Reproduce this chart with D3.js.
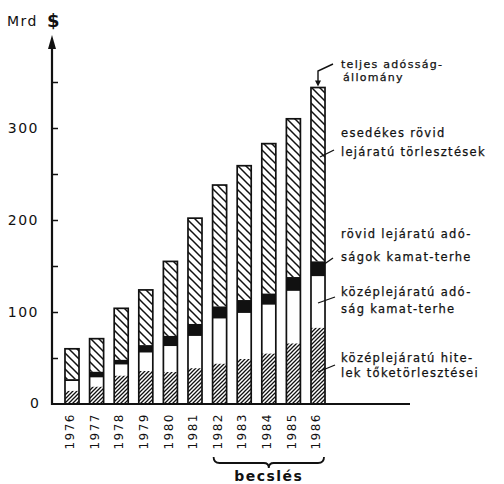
<!DOCTYPE html>
<html>
<head>
<meta charset="utf-8">
<script src="https://cdn.jsdelivr.net/npm/d3@7"></script>
<style>
  body { margin: 0; background: #fff; }
  text { font-family: "DejaVu Sans", sans-serif; fill: #111; }
</style>
</head>
<body>
<div id="chart"></div>
<script>
// évek és összetevők (Mrd $)
const years = ["1976", "1977", "1978", "1979", "1980", "1981", "1982", "1983", "1984", "1985", "1986"];
const tokeTorlesztes = [14.5, 19, 31, 36, 35, 39, 44, 49, 55, 66, 83];
const kozepKamat = [10.5, 10, 12, 20, 28, 35, 49, 50, 53, 57, 56];
const rovidKamat = [2, 6, 5, 8, 11, 13, 13, 14, 12, 15, 16];
const rovidTorlesztes = [33, 36, 56, 60, 81, 115, 132, 146, 163, 172, 189];
const yTicks = [0, 50, 100, 150, 200, 250, 300, 350];
const estimatedYears = ["1982", "1983", "1984", "1985", "1986"];

const labelTeljes = ["teljes adósság-", "állomány"];
const labelRovidTorl = ["esedékes rövid", "lejáratú törlesztések"];
const labelRovidKamat = ["rövid lejáratú adó-", "ságok kamat-terhe"];
const labelKozepKamat = ["középlejáratú adó-", "ság kamat-terhe"];
const labelToke = ["középlejáratú hite-", "lek tőketörlesztései"];

const width = 504, height = 484;

const svg = d3.select("#chart").append("svg")
    .attr("width", width)
    .attr("height", height);

const defs = svg.append("defs");

// ritka "\" sraffozás
defs.append("pattern")
    .attr("id", "hatchBack")
    .attr("patternUnits", "userSpaceOnUse")
    .attr("width", 8).attr("height", 8)
    .append("path")
    .attr("d", "M-2,-2 L10,10 M-2,6 L2,10 M6,-2 L10,2")
    .attr("stroke", "#111").attr("stroke-width", 1.5);

// sűrű "/" sraffozás
defs.append("pattern")
    .attr("id", "hatchFwd")
    .attr("patternUnits", "userSpaceOnUse")
    .attr("width", 4).attr("height", 4)
    .append("path")
    .attr("d", "M-1,1 L1,-1 M0,4 L4,0 M3,5 L5,3")
    .attr("stroke", "#111").attr("stroke-width", 1.3);

const x = d3.scaleBand()
    .domain(years)
    .range([59.7, 330.3])
    .paddingInner(0.43)
    .paddingOuter(0.215);

const y = d3.scaleLinear()
    .domain([0, 350])
    .range([404, 82]);

const table = years.map((yr, i) => ({
    year: yr,
    toke: tokeTorlesztes[i],
    kozep: kozepKamat[i],
    rovidK: rovidKamat[i],
    rovidT: rovidTorlesztes[i]
}));

const keys = ["toke", "kozep", "rovidK", "rovidT"];
const fills = {
    toke: "url(#hatchFwd)",
    kozep: "#fff",
    rovidK: "#111",
    rovidT: "url(#hatchBack)"
};

const stacked = d3.stack().keys(keys)(table);

svg.append("g")
    .selectAll("g")
    .data(stacked)
    .join("g")
    .attr("fill", d => fills[d.key])
    .selectAll("rect")
    .data(d => d)
    .join("rect")
    .attr("x", d => x(d.data.year))
    .attr("y", d => y(d[1]))
    .attr("width", x.bandwidth())
    .attr("height", d => y(d[0]) - y(d[1]));

// oszlopok körvonala
const total = d => d.toke + d.kozep + d.rovidK + d.rovidT;
svg.append("g")
    .selectAll("rect")
    .data(table)
    .join("rect")
    .attr("x", d => x(d.year))
    .attr("y", d => y(total(d)))
    .attr("width", x.bandwidth())
    .attr("height", d => y(0) - y(total(d)))
    .attr("fill", "none")
    .attr("stroke", "#111")
    .attr("stroke-width", 1.7);

// Y tengely
const axisX = 52;
const yAxis = svg.append("g")
    .attr("transform", `translate(${axisX},0)`)
    .call(d3.axisLeft(y)
        .tickValues(yTicks.filter(v => v > 0))
        .tickSizeInner(-6)
        .tickSizeOuter(0)
        .tickPadding(13)
        .tickFormat(d => d % 100 === 0 ? d : ""));
yAxis.select(".domain").remove();
yAxis.selectAll("line").attr("stroke", "#111").attr("stroke-width", 1.5);
yAxis.selectAll("text")
    .style("font-size", "14px")
    .style("letter-spacing", "1.5px")
    .attr("fill", "#111");

svg.append("text")
    .attr("x", axisX - 13)
    .attr("y", y(0))
    .attr("dy", "0.32em")
    .attr("text-anchor", "end")
    .style("font-size", "14px")
    .text("0");

svg.append("line")
    .attr("x1", axisX).attr("x2", axisX)
    .attr("y1", y(0) + 1).attr("y2", 46)
    .attr("stroke", "#111").attr("stroke-width", 2.2);

svg.append("path")
    .attr("d", `M${axisX},35 L${axisX - 4},49 L${axisX + 4},49 Z`)
    .attr("fill", "#111");

// alapvonal
svg.append("line")
    .attr("x1", axisX).attr("x2", 410)
    .attr("y1", y(0)).attr("y2", y(0))
    .attr("stroke", "#111").attr("stroke-width", 2.2);

// mértékegység
svg.append("text")
    .attr("x", 7).attr("y", 26)
    .style("font-size", "14px")
    .style("letter-spacing", "1.5px")
    .text("Mrd");
svg.append("text")
    .attr("x", 47).attr("y", 27)
    .style("font-size", "18px")
    .style("font-weight", "bold")
    .text("$");

// évszámok
svg.append("g")
    .selectAll("text")
    .data(years)
    .join("text")
    .attr("transform", d => `translate(${x(d) + x.bandwidth() / 2 - 2},413) rotate(-90)`)
    .attr("dy", "0.35em")
    .attr("text-anchor", "end")
    .style("font-size", "12px")
    .style("letter-spacing", "1.5px")
    .text(d => d);

// becslés kapcsos zárójel
const bx0 = x(estimatedYears[0]) + 1;
const bx1 = x(estimatedYears[estimatedYears.length - 1]) + x.bandwidth() - 1;
const bmid = (bx0 + bx1) / 2;
const by = 457;
svg.append("path")
    .attr("d", `M${bx0},${by} Q${bx0},${by + 6} ${bx0 + 6},${by + 6} L${bmid - 5},${by + 6} Q${bmid},${by + 6} ${bmid},${by + 11} Q${bmid},${by + 6} ${bmid + 5},${by + 6} L${bx1 - 6},${by + 6} Q${bx1},${by + 6} ${bx1},${by}`)
    .attr("fill", "none")
    .attr("stroke", "#111")
    .attr("stroke-width", 1.8);
svg.append("text")
    .attr("x", bmid).attr("y", 481)
    .attr("text-anchor", "middle")
    .style("font-size", "14px")
    .style("font-weight", "bold")
    .style("letter-spacing", "1.5px")
    .text("becslés");

// jelmagyarázat feliratok
const lx = 341;
const lastX = x("1986") + x.bandwidth() / 2;

function addLabel(lines, baselines, size) {
    svg.append("g")
        .selectAll("text")
        .data(lines)
        .join("text")
        .attr("x", (d, i) => lx + (size < 11.5 && i === 1 ? 2 : 0))
        .attr("y", (d, i) => baselines[i])
        .style("font-size", size + "px")
        .style("letter-spacing", "1.3px")
        .style("stroke", "#111")
        .style("stroke-width", 0.25)
        .text(d => d);
}

addLabel(labelTeljes, [68, 81], 11);
addLabel(labelRovidTorl, [137, 156], 11.5);
addLabel(labelRovidKamat, [238, 261], 11.5);
addLabel(labelKozepKamat, [296, 313], 11.5);
addLabel(labelToke, [362, 377], 11.5);

// mutató vonalak
const leaders = [
    [[lx - 7, 150], [lastX + 2, 157]],
    [[lx - 8, 258], [lastX + 5, 265]],
    [[lx - 6, 297], [lastX, 303]],
    [[lx - 6, 365], [lastX, 372]]
];
svg.append("g")
    .selectAll("path")
    .data(leaders)
    .join("path")
    .attr("d", d => d3.line()(d))
    .attr("fill", "none")
    .attr("stroke", "#111")
    .attr("stroke-width", 1.3);

const total1986 = total(table[table.length - 1]);
svg.append("path")
    .attr("d", d3.line()([[lx - 8, 64], [lastX, 71], [lastX, y(total1986) - 5]]))
    .attr("fill", "none")
    .attr("stroke", "#111")
    .attr("stroke-width", 1.4);
svg.append("path")
    .attr("d", `M${lastX},${y(total1986) - 1} L${lastX - 3},${y(total1986) - 7} L${lastX + 3},${y(total1986) - 7} Z`)
    .attr("fill", "#111");
</script>
</body>
</html>
